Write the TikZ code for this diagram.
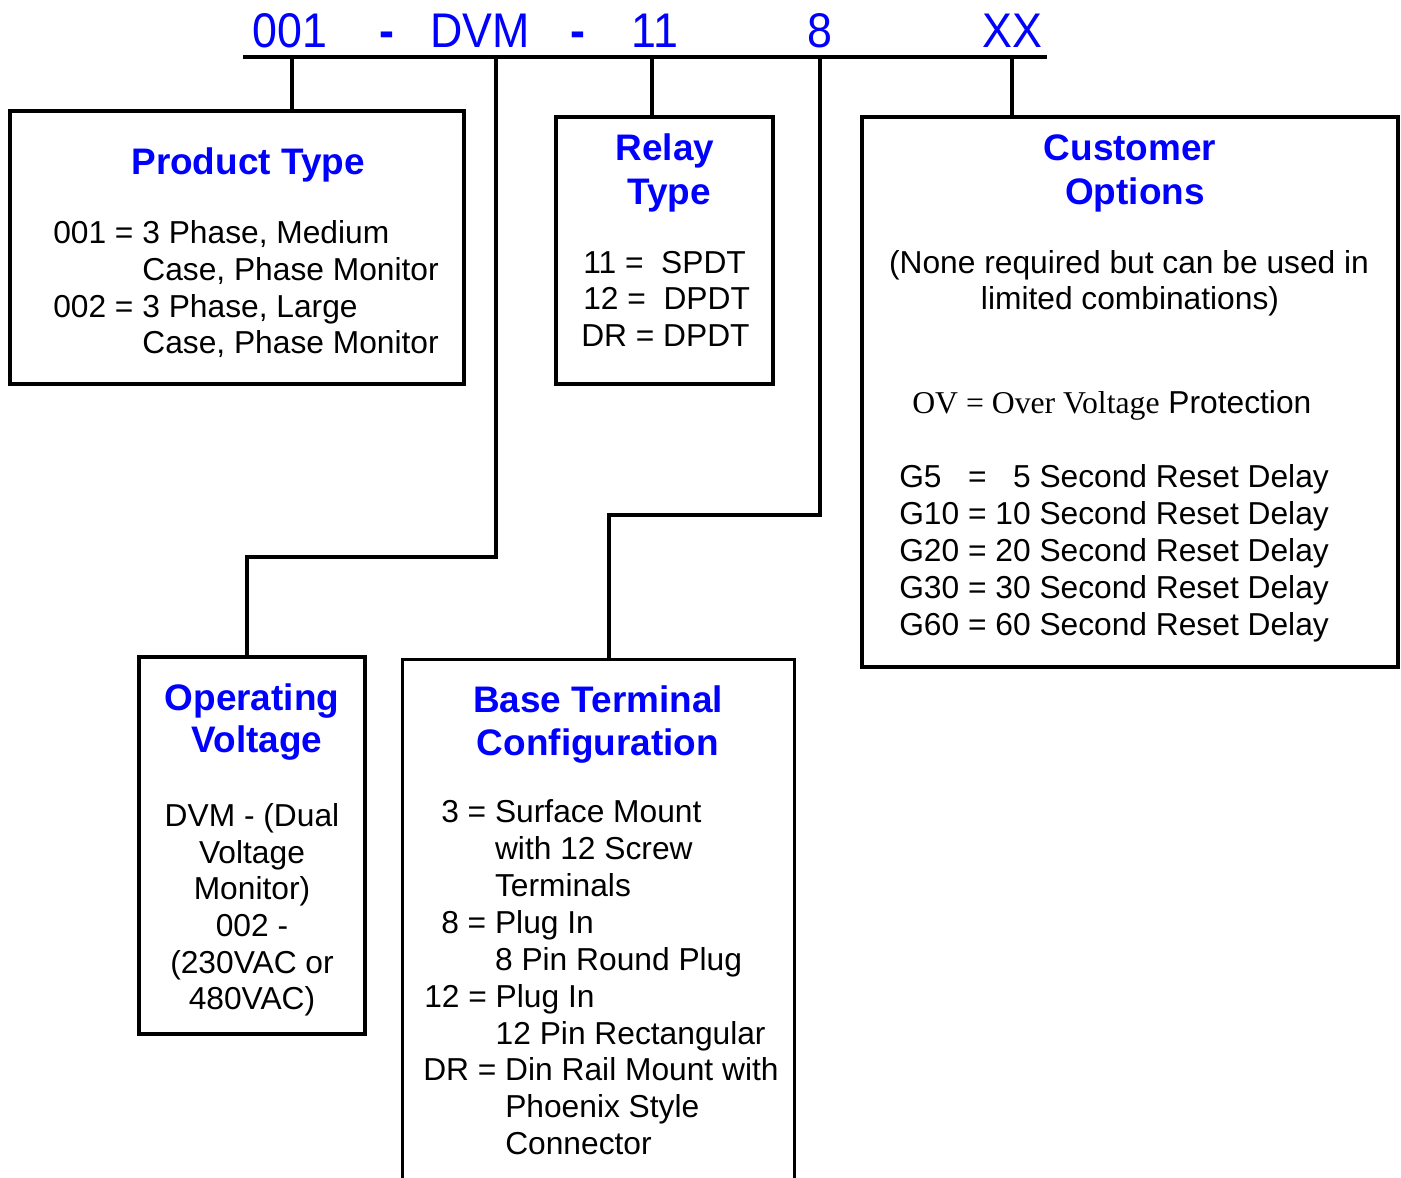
\documentclass[tikz,border=0pt]{standalone}
\usepackage{fontspec}
\setmainfont{Liberation Sans}
\newfontfamily\hdrfont[FakeStretch=0.92]{Liberation Sans}
\newfontfamily\tmsfont{Liberation Serif}
\usetikzlibrary{fit}
\definecolor{tblue}{RGB}{0,0,255}
\tikzset{
  box/.style={draw=black, line width=2.5pt, inner sep=0pt},
  wire/.style={draw=black, line width=2.4pt},
  hdr/.style={anchor=base, inner sep=0pt, text=tblue, font=\hdrfont\fontsize{36.5}{40}\selectfont},
  ttl/.style={anchor=base, inner sep=0pt, text=tblue, font=\bfseries\fontsize{27.7}{32}\selectfont},
  bodyl/.style={anchor=base west, inner sep=0pt, font=\fontsize{23.8}{27.5}\selectfont},
  bodyc/.style={anchor=base, inner sep=0pt, font=\fontsize{23.8}{27.5}\selectfont},
}
\begin{document}
\begin{tikzpicture}[x=0.75pt, y=-0.75pt]
\useasboundingbox (0,0) rectangle (1401,1177);
\fill[white] (0,0) rectangle (1401,1177);
% header
\node[hdr] (h1) at (290,48) {001};
\node[hdr] (h2) at (387,48) {\bfseries -};
\node[hdr] (h3) at (480,48) {DVM};
\node[hdr] (h4) at (578,48) {\bfseries -};
\node[hdr] (h5) at (655,48) {11};
\node[hdr] (h6) at (820,48) {8};
\node[hdr] (h7) at (1012,48) {XX};
\coordinate (hl) at (243,57);
\coordinate (hr) at (1047,57);
\coordinate (t1) at (292,57);
\coordinate (t2) at (496,57);
\coordinate (t3) at (652,57);
\coordinate (t4) at (820,57);
\coordinate (t5) at (1012,57);
\coordinate (b2) at (496,557);
\coordinate (c2) at (247,557);
\coordinate (b4) at (820,515);
\coordinate (c4) at (609,515);
% boxes
\node[box, fit={(10,111) (464,384)}] (prod) {};
\node[box, fit={(556,117) (773,384)}] (relay) {};
\node[box, fit={(862,117) (1398,667)}] (cust) {};
\node[box, fit={(139,657) (365,1034)}] (opv) {};
\node[inner sep=0pt, fit={(403,660) (794,1190)}] (base) {};
\draw[box] (base.south west) -- (base.north west) -- (base.north east) -- (base.south east);
% connectors
\draw[wire] (hl) -- (hr);
\draw[wire] (t1) -- (t1 |- prod.north);
\draw[wire] (t2) -- (b2) -- (c2) -- (c2 |- opv.north);
\draw[wire] (t3) -- (t3 |- relay.north);
\draw[wire] (t4) -- (b4) -- (c4) -- (c4 |- base.north);
\draw[wire] (t5) -- (t5 |- cust.north);
% Product type
\node[ttl] (prodT) at (248,174) {Product Type};
\node[bodyl] (p1) at (53,243) {001 = 3 Phase, Medium};
\node[bodyl] (p2) at (53,280) {\phantom{001 = }Case, Phase Monitor};
\node[bodyl] (p3) at (53,317) {002 = 3 Phase, Large};
\node[bodyl] (p4) at (53,353) {\phantom{002 = }Case, Phase Monitor};
% Relay type
\node[ttl] (relT1) at (665,161) {Relay};
\node[ttl] (relT2) at (669,204) {Type};
\node[bodyl] (r1) at (583,273) {11 =\ \ SPDT};
\node[bodyl] (r2) at (583,309) {12 =\ \ DPDT};
\node[bodyl] (r3) at (581,346) {DR = DPDT};
% Customer options
\node[ttl] (cusT1) at (1130,161) {Customer};
\node[ttl] (cusT2) at (1135,204) {Options};
\node[bodyc] (c1) at (1129,273) {(None required but can be used in};
\node[bodyc] (c2t) at (1130,309) {limited combinations)};
\node[bodyl] (ov) at (912,413) {{\tmsfont OV = Over Voltage} Protection};
\node[bodyl] (g1) at (899,487) {G5\phantom{0} = \phantom{1}5 Second Reset Delay};
\node[bodyl] (g2) at (899,524) {G10 = 10 Second Reset Delay};
\node[bodyl] (g3) at (899,561) {G20 = 20 Second Reset Delay};
\node[bodyl] (g4) at (899,598) {G30 = 30 Second Reset Delay};
\node[bodyl] (g5) at (899,635) {G60 = 60 Second Reset Delay};
% Operating voltage
\node[ttl] (opT1) at (252,710) {Operating};
\node[ttl] (opT2) at (257,752) {Voltage};
\node[bodyc] (o1) at (252,826) {DVM - (Dual};
\node[bodyc] (o2) at (252,863) {Voltage};
\node[bodyc] (o3) at (252,899) {Monitor)};
\node[bodyc] (o4) at (252,936) {002 -};
\node[bodyc] (o5) at (252,973) {(230VAC or};
\node[bodyc] (o6) at (252,1009) {480VAC)};
% Base terminal configuration
\node[ttl] (baT1) at (598,712) {Base Terminal};
\node[ttl] (baT2) at (598,755) {Configuration};
\node[bodyl] (s1) at (441,822) {3 = Surface Mount};
\node[bodyl] (s2) at (441,859) {\phantom{3 = }with 12 Screw};
\node[bodyl] (s3) at (441,896) {\phantom{3 = }Terminals};
\node[bodyl] (s4) at (441,933) {8 = Plug In};
\node[bodyl] (s5) at (441,970) {\phantom{8 = }8 Pin Round Plug};
\node[bodyl] (s6) at (424,1007) {12 = Plug In};
\node[bodyl] (s7) at (424,1044) {\phantom{12 = }12 Pin Rectangular};
\node[bodyl] (s8) at (423,1080) {DR = Din Rail Mount with};
\node[bodyl] (s9) at (423,1117) {\phantom{DR = }Phoenix Style};
\node[bodyl] (s10) at (423,1154) {\phantom{DR = }Connector};
\end{tikzpicture}
\end{document}
